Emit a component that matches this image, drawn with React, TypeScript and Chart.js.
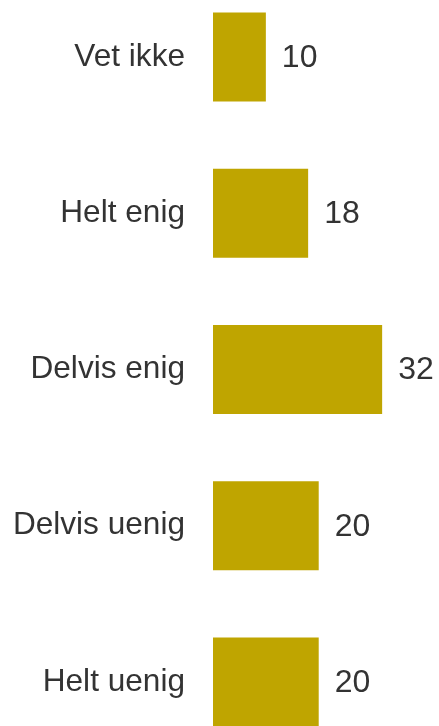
import React, { useEffect, useRef } from "react";
import { Chart, registerables } from "chart.js";

Chart.register(...registerables);

const categories = ["Vet ikke", "Helt enig", "Delvis enig", "Delvis uenig", "Helt uenig"];
const values = [10, 18, 32, 20, 20];
const valueLabels = ["10", "18", "32", "20", "20"];

const FONT = "'Liberation Sans', Arial, Helvetica, sans-serif";
const BAR_COLOR = "#BFA500";
const TEXT_COLOR = "#333333";

const valueLabelPlugin = {
  id: "valueLabels",
  afterDatasetsDraw(chart: any) {
    const ctx = chart.ctx;
    const meta = chart.getDatasetMeta(0);
    ctx.save();
    ctx.font = `32px ${FONT}`;
    ctx.fillStyle = TEXT_COLOR;
    ctx.textAlign = "left";
    ctx.textBaseline = "middle";
    meta.data.forEach((bar: any, i: number) => {
      ctx.fillText(valueLabels[i], bar.x + 16, bar.y + 1);
    });
    ctx.restore();
  },
};

export default function App() {
  const ref = useRef<HTMLCanvasElement>(null);
  useEffect(() => {
    document.body.style.margin = "0";
    const canvas = ref.current!;
    const chart = new Chart(canvas, {
      type: "bar",
      data: {
        labels: categories,
        datasets: [
          {
            data: values,
            backgroundColor: BAR_COLOR,
            borderWidth: 0,
            barPercentage: 0.57,
            categoryPercentage: 1,
          },
        ],
      },
      options: {
        indexAxis: "y",
        responsive: false,
        animation: false,
        layout: { padding: { left: 0, right: 4, top: 0, bottom: 0 } },
        plugins: {
          legend: { display: false },
          tooltip: { enabled: false },
        },
        scales: {
          x: {
            display: false,
            min: 0,
            max: 42,
          },
          y: {
            grid: { display: false, drawTicks: false },
            border: { display: false },
            ticks: {
              padding: 28,
              color: TEXT_COLOR,
              font: { family: FONT, size: 31.6 },
            },
            afterFit(scale: any) {
              scale.width = 213;
              scale.paddingTop = 0;
              scale.paddingBottom = 0;
            },
          },
        },
      },
      plugins: [valueLabelPlugin],
    });
    return () => chart.destroy();
  }, []);
  return (
    <div style={{ position: "relative", width: 439, height: 726, overflow: "hidden", background: "#fff" }}>
      <canvas
        ref={ref}
        width={439}
        height={781}
        style={{ position: "absolute", left: 0, top: -21, width: 439, height: 781 }}
      />
    </div>
  );
}
